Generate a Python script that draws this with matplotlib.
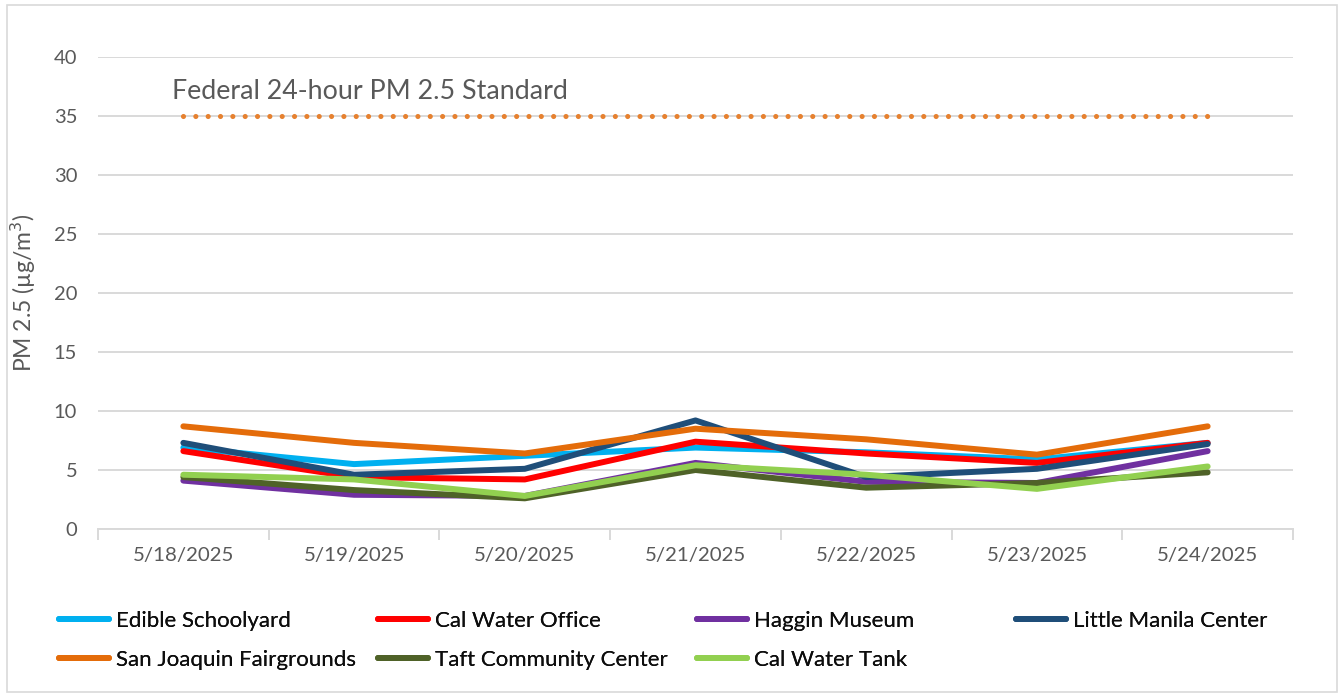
import matplotlib.pyplot as plt
from matplotlib.patches import Rectangle

plt.rcParams['font.family'] = ['Lato', 'DejaVu Sans']

# fechas y series (PM 2.5, ug/m3)
fechas = ['5/18/2025', '5/19/2025', '5/20/2025', '5/21/2025',
          '5/22/2025', '5/23/2025', '5/24/2025']
edible = [6.9, 5.5, 6.2, 6.9, 6.5, 5.9, 7.3]
cal_water_office = [6.6, 4.4, 4.2, 7.4, 6.4, 5.6, 7.3]
haggin = [4.1, 2.9, 2.8, 5.6, 4.0, 3.9, 6.6]
little_manila = [7.3, 4.6, 5.1, 9.2, 4.4, 5.1, 7.2]
san_joaquin = [8.7, 7.3, 6.4, 8.5, 7.6, 6.3, 8.7]
taft = [4.4, 3.3, 2.6, 5.0, 3.5, 3.9, 4.8]
cal_water_tank = [4.6, 4.2, 2.8, 5.4, 4.6, 3.4, 5.3]
estandar = 35
estandar_txt = 'Federal 24-hour PM 2.5 Standard'

series = [
    ('Edible Schoolyard', edible, '#00B0F0'),
    ('Cal Water Office', cal_water_office, '#FF0000'),
    ('Haggin Museum', haggin, '#7030A0'),
    ('Little Manila Center', little_manila, '#1F4E79'),
    ('San Joaquin Fairgrounds', san_joaquin, '#E46C0A'),
    ('Taft Community Center', taft, '#4F6228'),
    ('Cal Water Tank', cal_water_tank, '#92D050'),
]

fig = plt.figure(figsize=(13.44, 6.96), dpi=100)
ax = fig.add_axes([98 / 1344, 1 - 529 / 696, 1195 / 1344, 472 / 696])

x = list(range(len(fechas)))
lineas = []
for nombre, vals, color in series:
    l, = ax.plot(x, vals, color=color, lw=4.3, solid_capstyle='round',
                 solid_joinstyle='round', label=nombre)
    lineas.append(l)

# linea punteada del estandar federal
ax.plot(x, [estandar] * len(x), color='#E6812F', lw=3.7,
        linestyle=(0, (0.001, 2.4)), dash_capstyle='round')
ax.text(-0.065, estandar + 2.1, estandar_txt, fontsize=19.3, color='#595959',
        va='center', ha='left')

ax.set_xlim(-0.5, len(fechas) - 0.5)
ax.set_ylim(0, 40)
ax.set_yticks(range(0, 41, 5))
ax.yaxis.grid(True, color='#D9D9D9', lw=1.4)
ax.set_axisbelow(True)
ax.tick_params(axis='y', length=0, labelsize=14.5, labelcolor='#595959', pad=15)

# ticks entre categorias, etiquetas en el centro
ax.set_xticks([i - 0.5 for i in range(len(fechas) + 1)])
ax.set_xticklabels([])
ax.set_xticks(x, minor=True)
ax.set_xticklabels(fechas, minor=True)
ax.tick_params(axis='x', which='major', length=8, color='#D9D9D9', width=1.4)
ax.tick_params(axis='x', which='minor', length=0, labelsize=14.7,
               labelcolor='#595959', pad=13)

for s in ['top', 'right', 'left']:
    ax.spines[s].set_visible(False)
ax.spines['bottom'].set_color('#D9D9D9')
ax.spines['bottom'].set_linewidth(1.4)

ax.set_ylabel('PM 2.5 (µg/m$^3$)', fontsize=16.5, color='#595959')
ax.yaxis.set_label_coords(-0.05, 0.5)

# leyenda: 4 columnas de ancho fijo
columnas = [[0, 4], [1, 5], [2, 6], [3]]
col_x = [59, 378, 697, 1016]
for cx, idxs in zip(col_x, columnas):
    leg = fig.legend([lineas[i] for i in idxs], [series[i][0] for i in idxs],
                     loc='upper left', bbox_to_anchor=(cx / 1344, 1 - 611 / 696),
                     frameon=False, fontsize=16, handlelength=2.25,
                     handletextpad=0.3, labelspacing=0.85, borderpad=0,
                     borderaxespad=0)
    for t in leg.get_texts():
        t.set_color('#0D0D0D')
    fig.add_artist(leg)

# borde del grafico
fig.add_artist(Rectangle((7 / 1344, 4 / 696), 1330 / 1344, 687 / 696,
                         transform=fig.transFigure, fill=False,
                         edgecolor='#D9D9D9', lw=1.2))

fig.savefig('out.png', dpi=100)
